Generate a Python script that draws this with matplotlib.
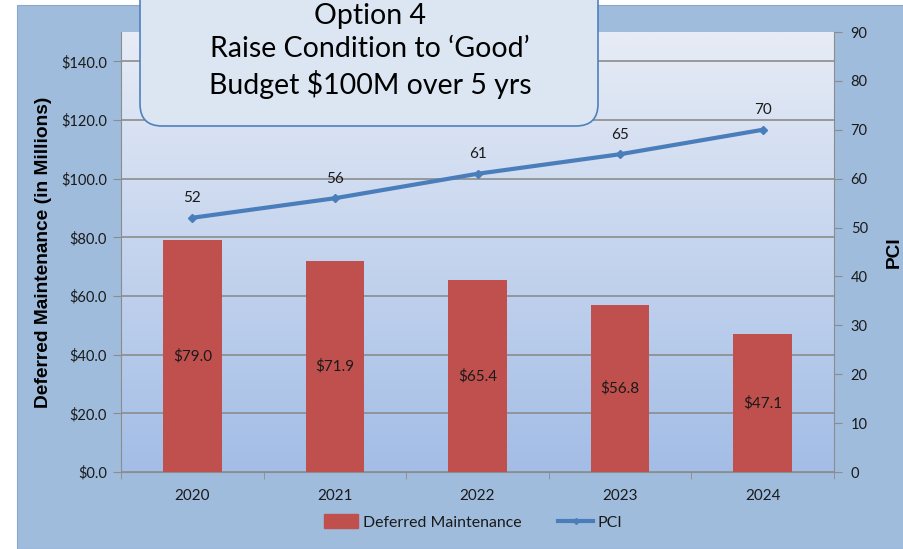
import matplotlib

matplotlib.use("Agg")
import matplotlib.pyplot as plt
import numpy as np
from matplotlib.patches import FancyBboxPatch, Rectangle
from matplotlib.lines import Line2D
from matplotlib.colors import LinearSegmentedColormap

years = ["2020", "2021", "2022", "2023", "2024"]
deferred = [79.0, 71.9, 65.4, 56.8, 47.1]
pci = [52, 56, 61, 65, 70]
left_ticks = [0, 20, 40, 60, 80, 100, 120, 140]
right_ticks = [0, 10, 20, 30, 40, 50, 60, 70, 80, 90]
box_text = "Option 4\nRaise Condition to \u2018Good\u2019\nBudget $100M over 5 yrs"

BAR_COLOR = "#c0504d"
LINE_COLOR = "#4a7ebb"
OUTER_BG = "#9fbcdd"
GRID = "#8c8c8c"
TXT = "#1a1a1a"

plt.rcParams["font.family"] = ["Lato", "DejaVu Sans"]

W, H = 904, 549
fig = plt.figure(figsize=(W / 100, H / 100), dpi=100, facecolor="white")

# chart area background (behind the axes)
fig.patches.append(Rectangle((17 / W, 0), 1 - 17 / W, (H - 5) / H, transform=fig.transFigure,
                             facecolor=OUTER_BG, edgecolor="#8aa8cc", lw=0.8, zorder=-5))

ax = fig.add_axes([121 / W, (H - 472) / H, 713 / W, 440 / H])
ax.set_facecolor("none")

# gradient plot area
grad = LinearSegmentedColormap.from_list("g", ["#a3bde6", "#e7ecf6"])
ax.imshow(np.linspace(0, 1, 256).reshape(-1, 1), cmap=grad, origin="lower", aspect="auto",
          extent=(0, 1, 0, 1), transform=ax.transAxes, zorder=0)

x = np.arange(len(years))
bars = ax.bar(x, deferred, width=0.41, color=BAR_COLOR, zorder=3, label="Deferred Maintenance")
ax.bar_label(bars, labels=[f"${v:.1f}" for v in deferred], label_type="center", fontsize=11, color=TXT)

ax.set_xlim(-0.5, len(years) - 0.5)
ax.set_ylim(0, 150)
ax.set_yticks(left_ticks)
ax.set_yticklabels([f"${v:.1f}" for v in left_ticks], fontsize=10.5, color=TXT)
ax.set_xticks(x)
ax.set_xticklabels(years, fontsize=11, color=TXT)
ax.set_xticks(np.arange(-0.5, len(years)), minor=True)
ax.tick_params(axis="x", which="major", length=0, pad=12)
ax.tick_params(axis="x", which="minor", length=5, color=GRID)
ax.tick_params(axis="y", length=6, color=GRID, pad=4)
ax.yaxis.grid(True, color=GRID, lw=1.2, zorder=1)
ax.set_axisbelow(True)
for s in ["top", "right"]:
    ax.spines[s].set_visible(False)
for s in ["left", "bottom"]:
    ax.spines[s].set_color(GRID)
ax.set_ylabel("Deferred Maintenance (in Millions)", fontsize=13.8, fontweight="bold",
              family="Liberation Sans", labelpad=7, color="black")

ax2 = ax.twinx()
ax2.plot(x, pci, color=LINE_COLOR, lw=3, marker="D", ms=4, zorder=4)
for xi, v in zip(x, pci):
    ax2.annotate(str(v), (xi, v), xytext=(0, 9), textcoords="offset points",
                 ha="center", va="bottom", fontsize=11, color=TXT)
ax2.set_ylim(0, 90)
ax2.set_yticks(right_ticks)
ax2.set_yticklabels([str(v) for v in right_ticks], fontsize=10.5, color=TXT)
ax2.tick_params(axis="y", length=6, color=GRID, pad=6)
ax2.spines["top"].set_visible(False)
ax2.spines["left"].set_visible(False)
ax2.spines["bottom"].set_visible(False)
ax2.spines["right"].set_color(GRID)
ax2.set_ylabel("PCI", fontsize=13.8, fontweight="bold", family="Liberation Sans", labelpad=13, color="black")

# legend
handles = [Rectangle((0, 0), 1, 1, color=BAR_COLOR),
           Line2D([], [], color=LINE_COLOR, lw=3, marker="D", ms=3)]
fig.legend(handles, ["Deferred Maintenance", "PCI"], loc="center", ncol=2, frameon=False,
           bbox_to_anchor=(473 / W, (H - 522) / H), fontsize=11.4, handlelength=2.2,
           handleheight=0.9, columnspacing=2.3, handletextpad=0.3, labelcolor=TXT)

# callout box
box = FancyBboxPatch((1.40, (H - 126) / 100), 4.58, 1.6, boxstyle="round,pad=0,rounding_size=0.22",
                     transform=fig.dpi_scale_trans, facecolor="#dce6f2", edgecolor="#4f81bd", lw=1.2,
                     zorder=10, clip_on=False)
fig.patches.append(box)
fig.text(3.70 / (W / 100), (H - 51) / H, box_text, ha="center", va="center", fontsize=20.5,
         linespacing=1.33, color="black", zorder=11)

fig.savefig("out.png", dpi=100)
